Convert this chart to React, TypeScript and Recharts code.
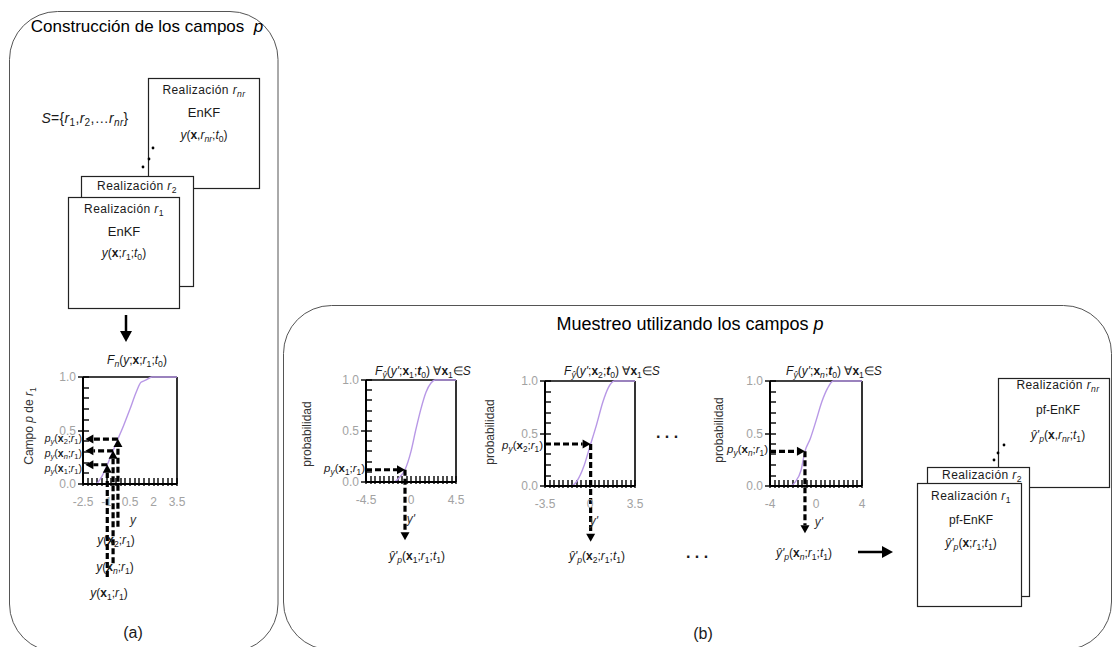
import React from "react";
import { LineChart, Line, XAxis, YAxis, ReferenceLine } from "recharts";

const FONT = '"Liberation Sans", Arial, sans-serif';
const CURVE = "#b898e6";
const GREY = "#a2a2a2";

// (a) CDF of realisation r1: F_n(y; x; r1; t0)
const fieldY = [-2.5, -1.7, -1.3, -0.95, -0.58, -0.27, 0.1, 0.5, 0.9, 1.2, 1.5, 1.9, 3.5];
const fieldP = [0, 0, 0.07, 0.18, 0.31, 0.42, 0.55, 0.7, 0.86, 0.95, 0.97, 1, 1];
const fieldMajor = [-2.5, -1, 0.5, 2, 3.5];
// order: x1, xn, x2
const fieldArrowY = [-0.95, -0.58, -0.27];
const fieldArrowP = [0.18, 0.31, 0.42];
const fieldArrowTail = [-0.87, -0.74, -0.4];

// (b) CDFs at x1, x2, xn
const cdf1Y = [-4.5, -1.8, -1.2, -0.6, 0, 0.5, 1.0, 1.5, 2.0, 2.4, 4.5];
const cdf1P = [0, 0, 0.04, 0.12, 0.3, 0.52, 0.72, 0.88, 0.97, 1, 1];
const cdf1Major = [-4.5, 0, 4.5];
const cdf2Y = [-3.5, -1.5, -1, -0.5, 0, 0.5, 1.0, 1.4, 1.9, 3.5];
const cdf2P = [0, 0, 0.05, 0.18, 0.38, 0.58, 0.8, 0.93, 1, 1];
const cdf2Major = [-3.5, 0, 3.5];
const cdfnY = [-4, -2.3, -1.8, -1.3, -0.96, -0.5, 0, 0.5, 1.0, 1.5, 4];
const cdfnP = [0, 0, 0.04, 0.15, 0.33, 0.45, 0.62, 0.8, 0.93, 1, 1];
const cdfnMajor = [-4, 0, 4];
const sampleY = [-0.6, 0.05, -0.96];
const sampleP = [0.12, 0.4, 0.33];
const sampleTail = [-0.57, -0.53, -0.45];

const yTicks = [0, 0.1, 0.2, 0.3, 0.4, 0.5, 0.6, 0.7, 0.8, 0.9, 1];

const spread = (a: number, b: number, n: number) =>
  Array.from({ length: n + 1 }, (_, i) => a + ((b - a) * i) / n);

function DashArrow(props: any) {
  const { x1, y1, x2, y2 } = props;
  const dx = x2 - x1;
  const dy = y2 - y1;
  const len = Math.hypot(dx, dy) || 1;
  const ux = dx / len;
  const uy = dy / len;
  const bx = x2 - ux * 8;
  const by = y2 - uy * 8;
  const pts = `${x2},${y2} ${bx - uy * 4.5},${by + ux * 4.5} ${bx + uy * 4.5},${by - ux * 4.5}`;
  return (
    <g>
      <line x1={x1} y1={y1} x2={bx} y2={by} stroke="#000" strokeWidth={3.2} strokeDasharray="6 3" />
      <polygon points={pts} fill="#000" />
    </g>
  );
}

// tick mark on the x axis, drawn as a thin filled bar at the first point of a segment
function BottomTick(props: any) {
  const { x1, y1 } = props;
  const x = Math.round(x1);
  const y = Math.round(y1);
  return <polygon points={`${x - 0.7},${y - 6} ${x + 0.7},${y - 6} ${x + 0.7},${y + 2} ${x - 0.7},${y + 2}`} fill="#000" />;
}
// tick mark on the y axis (major ones also stick out to the left)
function LeftTick(props: any) {
  const { x1, y1, major } = props;
  const x = Math.round(x1);
  const y = Math.round(y1);
  const xl = major ? x - 5 : x;
  return <polygon points={`${xl},${y - 0.7} ${x + 6},${y - 0.7} ${x + 6},${y + 0.7} ${xl},${y + 0.7}`} fill="#000" />;
}
const LeftTickMajor = (p: any) => <LeftTick {...p} major />;

function CdfPlot(props: any) {
  const { xs, ps, majors, arrows, inward, box } = props;
  const data = xs.map((x: number, i: number) => ({ x, p: ps[i] }));
  const lo = majors[0];
  const hi = majors[majors.length - 1];
  const xTicks = spread(lo, hi, 20);
  const m = box.margin;
  // axes take 1px each so that they are drawn
  const margin = { top: m.top, right: m.right, left: m.left - 1, bottom: m.bottom - 1 };

  const xTick = (t: any) => {
    const mj = majors.find((v: number) => Math.abs(v - t.payload.value) < 1e-6);
    if (mj === undefined) return <g />;
    return (
      <text x={t.x} y={t.y + 22} textAnchor="middle" fill={GREY} fontSize={12} fontFamily={FONT}>
        {mj}
      </text>
    );
  };
  const yTick = (t: any) => (
    <text x={t.x - 7} y={t.y + 4} textAnchor="end" fill={GREY} fontSize={12} fontFamily={FONT}>
      {t.payload.value.toFixed(1)}
    </text>
  );

  return (
    <div style={{ position: "absolute", left: box.left, top: box.top }}>
      <LineChart width={box.w} height={box.h} data={data} margin={margin}>
        <XAxis
          dataKey="x"
          type="number"
          domain={[lo, hi]}
          ticks={majors}
          interval={0}
          height={1}
          tickSize={0}
          tickMargin={0}
          tickLine={false}
          axisLine={{ stroke: "#000", strokeWidth: 2 }}
          tick={xTick}
        />
        <YAxis
          type="number"
          domain={[0, 1]}
          ticks={[0, 0.5, 1]}
          interval={0}
          width={1}
          tickSize={0}
          tickMargin={0}
          tickLine={false}
          axisLine={{ stroke: "#000", strokeWidth: 2 }}
          tick={yTick}
        />
        <ReferenceLine y={1} stroke="#000" strokeWidth={1.6} />
        <ReferenceLine x={hi} stroke="#000" strokeWidth={1.6} />
        {xTicks.map((v, i) => (
          <ReferenceLine
            key={`xt${i}`}
            segment={[{ x: v, y: 0 }, { x: v, y: 0.05 }]}
            ifOverflow="visible"
            shape={BottomTick}
          />
        ))}
        {yTicks.map((v, i) => (
          <ReferenceLine
            key={`yt${i}`}
            segment={[{ x: lo, y: v }, { x: lo + 0.3, y: v }]}
            ifOverflow="visible"
            shape={i % 5 === 0 ? LeftTickMajor : LeftTick}
          />
        ))}
        <Line dataKey="p" type="monotone" stroke={CURVE} strokeWidth={1.4} dot={false} isAnimationActive={false} />
        {arrows.map((a: any, i: number) =>
          inward ? (
            <React.Fragment key={i}>
              <ReferenceLine
                segment={[{ x: a.v, y: a.tail }, { x: a.v, y: a.p }]}
                ifOverflow="visible"
                shape={DashArrow}
              />
              <ReferenceLine
                segment={[{ x: a.v, y: a.p }, { x: lo + 0.15, y: a.p }]}
                ifOverflow="visible"
                shape={DashArrow}
              />
            </React.Fragment>
          ) : (
            <React.Fragment key={i}>
              <ReferenceLine
                segment={[{ x: lo, y: a.p }, { x: a.v, y: a.p }]}
                ifOverflow="visible"
                shape={DashArrow}
              />
              <ReferenceLine
                segment={[{ x: a.v, y: a.p }, { x: a.v, y: a.tail }]}
                ifOverflow="visible"
                shape={DashArrow}
              />
            </React.Fragment>
          )
        )}
      </LineChart>
    </div>
  );
}

function T(props: any) {
  const { x, y, size = 12, anchor = "middle", color = "#1a1a1a", rotate, spacing, children } = props;
  const tx = anchor === "middle" ? "-50%" : anchor === "end" ? "-100%" : "0";
  return (
    <div
      style={{
        position: "absolute",
        left: x,
        top: y,
        transform: `translate(${tx},-50%)${rotate ? ` rotate(${rotate}deg)` : ""}`,
        fontSize: size,
        color,
        whiteSpace: "nowrap",
        lineHeight: 1,
        fontFamily: FONT,
        letterSpacing: spacing,
      }}
    >
      {children}
    </div>
  );
}

const Sub = ({ children }: any) => (
  <sub style={{ fontSize: "0.72em", verticalAlign: "-0.3em", lineHeight: 0 }}>{children}</sub>
);
const Bx = ({ s }: any) => (
  <>
    <b>x</b>
    {s !== undefined && <Sub>{s}</Sub>}
  </>
);
const R = ({ s }: any) => (
  <>
    <i>r</i>
    <Sub>{s}</Sub>
  </>
);
const Yhat = () => (
  <>
    <i>ŷ'</i>
    <Sub>
      <i>p</i>
    </Sub>
  </>
);

export default function App() {
  const arrowsA = fieldArrowY.map((v, i) => ({ v, p: fieldArrowP[i], tail: fieldArrowTail[i] }));
  const arrowsB = sampleY.map((v, i) => ({ v, p: sampleP[i], tail: sampleTail[i] }));

  return (
    <div style={{ position: "absolute", left: 0, top: 0, width: 1112, height: 647, background: "#fff", overflow: "hidden", fontFamily: FONT }}>
      <svg width={1112} height={647} style={{ position: "absolute", left: 0, top: 0 }}>
        <rect x={9.5} y={11.5} width={268.5} height={640.5} rx={48} fill="none" stroke="#555" />
        <rect x={283.5} y={305.5} width={828} height={344.5} rx={48} fill="none" stroke="#555" />
        {/* realisation boxes (a) */}
        <rect x={148.5} y={78.5} width={111} height={110} fill="#fff" stroke="#222" strokeWidth={1.2} />
        <rect x={81.5} y={176.5} width={112} height={110} fill="#fff" stroke="#222" strokeWidth={1.2} />
        <rect x={68.5} y={197.5} width={111} height={111} fill="#fff" stroke="#222" strokeWidth={1.2} />
        <circle cx={143} cy={167} r={1.4} fill="#000" />
        <circle cx={149} cy={159} r={1.4} fill="#000" />
        <circle cx={153} cy={148} r={1.4} fill="#000" />
        <line x1={126} y1={315} x2={126} y2={333} stroke="#000" strokeWidth={2.5} />
        <polygon points="120,331 132,331 126,342" fill="#000" />
        {/* realisation boxes (b) */}
        <rect x={998.5} y={378.5} width={111} height={109} fill="#fff" stroke="#222" strokeWidth={1.2} />
        <rect x={927.5} y={467.5} width={102} height={129} fill="#fff" stroke="#222" strokeWidth={1.2} />
        <rect x={917.5} y={483.5} width={104} height={123} fill="#fff" stroke="#222" strokeWidth={1.2} />
        <circle cx={994} cy={460} r={1.4} fill="#000" />
        <circle cx={998} cy={453} r={1.4} fill="#000" />
        <circle cx={1004} cy={445} r={1.4} fill="#000" />
        <line x1={858} y1={552} x2={884} y2={552} stroke="#000" strokeWidth={2.5} />
        <polygon points="882,546 882,558 893,552" fill="#000" />
      </svg>

      <CdfPlot
        xs={fieldY}
        ps={fieldP}
        majors={fieldMajor}
        arrows={arrowsA}
        inward
        box={{ left: 20, top: 365, w: 180, h: 230, margin: { top: 12, left: 63, right: 23, bottom: 111 } }}
      />
      <CdfPlot
        xs={cdf1Y}
        ps={cdf1P}
        majors={cdf1Major}
        arrows={[arrowsB[0]]}
        box={{ left: 300, top: 370, w: 180, h: 185, margin: { top: 10, left: 66, right: 24, bottom: 73 } }}
      />
      <CdfPlot
        xs={cdf2Y}
        ps={cdf2P}
        majors={cdf2Major}
        arrows={[arrowsB[1]]}
        box={{ left: 480, top: 370, w: 180, h: 185, margin: { top: 11, left: 65, right: 25, bottom: 69 } }}
      />
      <CdfPlot
        xs={cdfnY}
        ps={cdfnP}
        majors={cdfnMajor}
        arrows={[arrowsB[2]]}
        box={{ left: 705, top: 370, w: 180, h: 185, margin: { top: 11, left: 65, right: 23, bottom: 69 } }}
      />

      {/* panel (a) text */}
      <T x={147} y={26} size={17} color="#000">
        Construcción de los campos&nbsp; <i>p</i>
      </T>
      <T x={85} y={118} size={14} spacing={0.3}>
        <i>S</i>={"{"}
        <R s="1" />,<R s="2" />,…<R s={<i>nr</i>} />
        {"}"}
      </T>
      <T x={204} y={90} spacing={0.4}>
        Realización <R s={<i>nr</i>} />
      </T>
      <T x={204} y={112} size={13}>EnKF</T>
      <T x={204} y={135}>
        <i>y</i>(<Bx />,<R s={<i>nr</i>} />;<i>t</i>
        <Sub>0</Sub>)
      </T>
      <T x={137} y={186} spacing={0.4}>
        Realización <R s="2" />
      </T>
      <T x={124} y={209} spacing={0.4}>
        Realización <R s="1" />
      </T>
      <T x={124} y={231} size={13}>EnKF</T>
      <T x={124} y={253}>
        <i>y</i>(<Bx />;<R s="1" />;<i>t</i>
        <Sub>0</Sub>)
      </T>
      <T x={137} y={360}>
        <i>F</i>
        <Sub>
          <i>n</i>
        </Sub>
        (<i>y</i>;<Bx />;<R s="1" />;<i>t</i>
        <Sub>0</Sub>)
      </T>
      <T x={29} y={426} rotate={-90} color="#333">
        Campo <i>p</i> de <R s="1" />
      </T>
      <T x={82} y={438} anchor="end" size={10.5}>
        <i>p</i>
        <Sub>
          <i>y</i>
        </Sub>
        (<Bx s="2" />;<R s="1" />)
      </T>
      <T x={82} y={453} anchor="end" size={10.5}>
        <i>p</i>
        <Sub>
          <i>y</i>
        </Sub>
        (<Bx s={<i>n</i>} />;<R s="1" />)
      </T>
      <T x={82} y={468} anchor="end" size={10.5}>
        <i>p</i>
        <Sub>
          <i>y</i>
        </Sub>
        (<Bx s="1" />;<R s="1" />)
      </T>
      <T x={133} y={520} color="#333">
        <i>y</i>
      </T>
      <T x={116} y={540}>
        <i>y</i>(<Bx s="2" />;<R s="1" />)
      </T>
      <T x={115} y={567}>
        <i>y</i>(<Bx s={<i>n</i>} />;<R s="1" />)
      </T>
      <T x={109} y={593}>
        <i>y</i>(<Bx s="1" />;<R s="1" />)
      </T>
      <T x={133} y={633} size={16}>(a)</T>

      {/* panel (b) text */}
      <T x={690} y={324} size={18} color="#000">
        Muestreo utilizando los campos <i>p</i>
      </T>
      <T x={423} y={371}>
        <i>F</i>
        <Sub>
          <i>ŷ</i>
        </Sub>
        (<i>y'</i>;<Bx s="1" />;<b>
          <i>t</i>
        </b>
        <Sub>0</Sub>) ∀<Bx s="1" />∈<i>S</i>
      </T>
      <T x={612} y={371}>
        <i>F</i>
        <Sub>
          <i>ŷ</i>
        </Sub>
        (<i>y'</i>;<Bx s="2" />;<b>
          <i>t</i>
        </b>
        <Sub>0</Sub>) ∀<Bx s="1" />∈<i>S</i>
      </T>
      <T x={834} y={371}>
        <i>F</i>
        <Sub>
          <i>ŷ</i>
        </Sub>
        (<i>y'</i>;<Bx s={<i>n</i>} />;<b>
          <i>t</i>
        </b>
        <Sub>0</Sub>) ∀<Bx s="1" />∈<i>S</i>
      </T>
      <T x={307} y={434} rotate={-90} color="#333">probabilidad</T>
      <T x={490} y={432} rotate={-90} color="#333">probabilidad</T>
      <T x={719} y={430} rotate={-90} color="#333">probabilidad</T>
      <T x={365} y={469} anchor="end" size={11.5}>
        <i>p</i>
        <Sub>
          <i>y</i>
        </Sub>
        (<Bx s="1" />;<R s="1" />)
      </T>
      <T x={543} y={446} anchor="end" size={11.5}>
        <i>p</i>
        <Sub>
          <i>y</i>
        </Sub>
        (<Bx s="2" />;<R s="1" />)
      </T>
      <T x={768} y={450} anchor="end" size={11.5}>
        <i>p</i>
        <Sub>
          <i>y</i>
        </Sub>
        (<Bx s={<i>n</i>} />;<R s="1" />)
      </T>
      <T x={411} y={519} color="#333">
        <i>y'</i>
      </T>
      <T x={594} y={521} color="#333">
        <i>y'</i>
      </T>
      <T x={819} y={522} color="#333">
        <i>y'</i>
      </T>
      <T x={417} y={556} size={12}>
        <Yhat />(<Bx s="1" />;<R s="1" />;<i>t</i>
        <Sub>1</Sub>)
      </T>
      <T x={597} y={556} size={12}>
        <Yhat />(<Bx s="2" />;<R s="1" />;<i>t</i>
        <Sub>1</Sub>)
      </T>
      <T x={804} y={553} size={12}>
        <Yhat />(<Bx s={<i>n</i>} />;<R s="1" />;<i>t</i>
        <Sub>1</Sub>)
      </T>
      <T x={667} y={433} size={16}>
        <b>. . .</b>
      </T>
      <T x={697} y={553} size={16}>
        <b>. . .</b>
      </T>
      <T x={1058} y={385} spacing={0.4}>
        Realización <R s={<i>nr</i>} />
      </T>
      <T x={1058} y={410}>pf-EnKF</T>
      <T x={1058} y={435} size={12}>
        <Yhat />(<Bx />,<R s={<i>nr</i>} />;<i>t</i>
        <Sub>1</Sub>)
      </T>
      <T x={982} y={475} spacing={0.4}>
        Realización <R s="2" />
      </T>
      <T x={971} y={496} spacing={0.4}>
        Realización <R s="1" />
      </T>
      <T x={971} y={520}>pf-EnKF</T>
      <T x={971} y={543} size={12}>
        <Yhat />(<Bx />;<R s="1" />;<i>t</i>
        <Sub>1</Sub>)
      </T>
      <T x={703} y={634} size={16}>(b)</T>
    </div>
  );
}
